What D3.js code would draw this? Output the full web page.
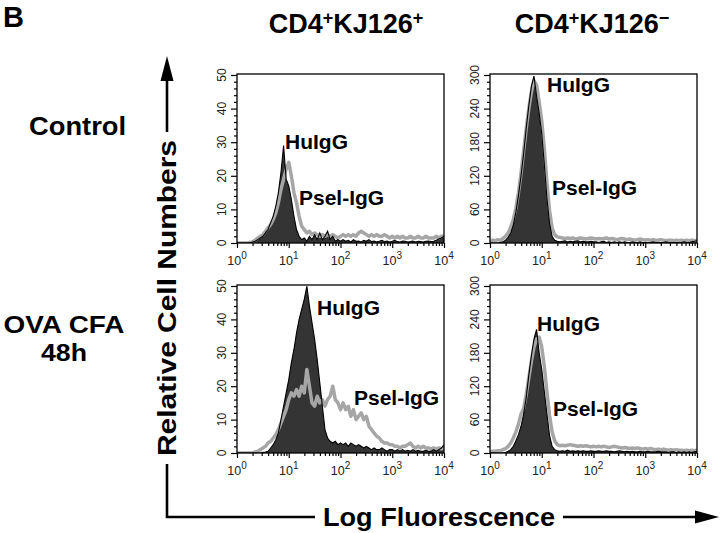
<!DOCTYPE html>
<html><head><meta charset="utf-8">
<script src="https://cdn.jsdelivr.net/npm/d3@7"></script>
<style>body{margin:0;background:#fff} svg{display:block}</style>
</head><body><svg id="c" width="720" height="533"></svg>
<script>
// log10 fluorescence channel positions (decades)
const logChannels = [0,0.05,0.1,0.15,0.2,0.25,0.3,0.35,0.4,0.45,0.5,0.55,0.6,0.65,0.7,0.75,0.8,0.85,0.9,0.95,1,1.05,1.1,1.15,1.2,1.25,1.3,1.35,1.4,1.45,1.5,1.55,1.6,1.65,1.7,1.75,1.8,1.85,1.9,1.95,2,2.05,2.1,2.15,2.2,2.25,2.3,2.35,2.4,2.45,2.5,2.55,2.6,2.65,2.7,2.75,2.8,2.85,2.9,2.95,3,3.05,3.1,3.15,3.2,3.25,3.3,3.35,3.4,3.45,3.5,3.55,3.6,3.65,3.7,3.75,3.8,3.85,3.9,3.95,4];

const columns = ["CD4", "CD4"];
const columnMid = ["KJ126", "KJ126"];
const columnSup = ["+", "-"];
const rows = [["Control"], ["OVA CFA", "48h"]];
const seriesNames = ["HuIgG", "Psel-IgG"];
const yTicks50 = [0,10,20,30,40,50];
const yTicks300 = [0,60,120,180,240,300];
const xDecades = [0,1,2,3,4];

// Control, CD4+KJ126+
const ctrlPos_HuIgG = [0,0,0,0,0,0,0.3,0.5,1,1.5,2,3,4,6,8,11,15,21,29,19,17,13,8,4,2,1,1.5,0.5,2,1,2.5,1,3,1,2,3.5,1,2,0.5,1,0.5,
 1,0.5,0.8,0.3,1,0.5,0.6,0.3,0.8,0.5,1,0.4,0.6,0.3,0.5,0.8,0.4,0.6,0.3,0.5,0.8,0.4,0.3,0.6,0.5,0.3,0.4,0.6,0.3,0.5,0.4,0.3,0.5,0.6,0.4,0.5,0.8,1.2,1.5,2];
const ctrlPos_Psel = [0,0,0,0,0,0.2,0.3,0.8,1.5,2,2.5,3.5,4.5,5.5,7,9,12,16,19,22,24,20,15,12,8,5,4,3,3.5,2.5,3,2.5,2,2.5,2,2.5,2,2.5,2,1.5,2,
 2.5,2,2.5,2,2.5,2,3,3.5,3,2.5,2,2.5,2,2.5,2,2,2.5,2,1.5,2,1.5,2,1.5,2,1.5,1.5,2,1.5,1.5,2,1.5,1.5,2,1.5,1.5,1.5,2,1.5,2,2];
// Control, CD4+KJ126-
const ctrlNeg_HuIgG = [0,0,0,0,1,2,5,10,18,32,55,85,120,160,205,245,280,298,262,232,195,140,80,35,12,5,3,
 2,3,4,2,3,2,3,4,2,3,2,2,3,2,
 2,1,2,3,1,2,1,2,1,2,1,2,1,1,2,1,1,2,1,1,1,1,2,1,1,1,1,2,1,1,1,1,1,1,2,1,1,2,3,4];
const ctrlNeg_Psel = [3,5,4,6,5,8,12,18,28,42,62,90,125,165,205,240,270,290,282,252,218,168,108,58,27,15,11,
 10,9,8,9,8,9,7,8,9,8,7,8,9,8,
 7,8,7,8,9,7,8,7,6,7,8,7,6,7,6,5,6,7,6,5,6,5,6,5,5,6,5,4,5,5,4,5,4,5,4,5,4,5,4,5];
// OVA CFA 48h, CD4+KJ126+
const ovaPos_HuIgG = [0,0,0,0,0,0,0,0,0,0,0.2,0.3,0.5,1.5,2.5,4,6,10,14,18,22,27,31,36,40,43,46,50,44,39,34,28,21,14,7,4.5,3.5,3,3.5,2.5,3,
 2.5,3,2,3,2.5,2,2.5,2,1.5,2,1.5,1,1.5,1,1,1.5,1,0.5,1,1,0.5,1,0.5,1,0.5,0.8,0.5,1,0.5,0.8,0.5,0.5,0.8,0.5,0.5,1,0.5,1,1.5,2.5];
const ovaPos_Psel = [0,0,0,0,0,0,0,0.3,0.5,1,1.5,2,3,3.5,4.5,5.5,7,9,11,13,16,18,17,19,17,20,18,25,20,15,14,17,15,16,14,16,17,20,16,15,13,
 15,13,14,11,13,10,11,12,10,11,8,7,6,5,4.5,3.5,3,3,2.5,2.5,2,2,1.5,2,2,2.5,3,2,1.5,2,1.5,2,1.5,1.5,1.2,1.5,1.2,1.5,1.2,1.5];
// OVA CFA 48h, CD4+KJ126-
const ovaNeg_HuIgG = [0,0,0,0,0,0,1,3,6,12,22,33,48,70,100,140,175,205,222,180,150,110,70,32,12,6,4,
 3,4,3,5,3,4,3,4,3,4,3,3,4,3,
 3,4,3,3,4,3,3,2,3,4,3,2,3,2,3,2,2,3,2,2,3,2,2,2,3,2,2,2,1,2,2,1,2,1,2,1,2,1,2,3];
const ovaNeg_Psel = [2,3,3,4,4,6,8,12,18,27,38,52,70,80,105,135,165,190,205,208,190,155,110,68,38,22,15,
 13,14,13,14,15,14,13,12,13,12,13,12,11,12,
 11,12,11,12,11,10,11,12,11,10,9,10,9,8,9,8,9,8,7,8,7,8,7,6,7,6,7,6,5,6,5,6,5,5,4,5,4,5,4,5];

const panels = [
  {hu: ctrlPos_HuIgG, ps: ctrlPos_Psel, ticks: yTicks50},
  {hu: ctrlNeg_HuIgG, ps: ctrlNeg_Psel, ticks: yTicks300},
  {hu: ovaPos_HuIgG, ps: ovaPos_Psel, ticks: yTicks50},
  {hu: ovaNeg_HuIgG, ps: ovaNeg_Psel, ticks: yTicks300}
];

// ---- layout ----
const FONT = "'Liberation Sans', Arial, Helvetica, sans-serif";
const svg = d3.select('#c');
const colX = [237, 490], panelW = 207;
const rowY = [{top: 75, bottom: 243}, {top: 286, bottom: 453}];
const labelPos = [
  [[285,149],[299,205]],
  [[547,92],[552,195]],
  [[317,315],[354,405]],
  [[537,331],[553,416]]
];

panels.forEach((p, idx) => {
  const r = Math.floor(idx / 2), c = idx % 2;
  const yMax = p.ticks[p.ticks.length - 1];
  const x = d3.scaleLog().domain([1, 10000]).range([colX[c], colX[c] + panelW]);
  const y = d3.scaleLinear().domain([0, yMax]).range([rowY[r].bottom, rowY[r].top]);
  const g = svg.append('g');
  const cid = 'clip' + idx;
  svg.append('clipPath').attr('id', cid).append('rect')
    .attr('x', x.range()[0]).attr('y', y.range()[1] - 1)
    .attr('width', panelW).attr('height', y.range()[0] - y.range()[1] + 1);
  const pts = arr => logChannels.map((l, i) => [Math.pow(10, l), arr[i]]);
  const area = d3.area().x(d => x(d[0])).y0(y(0)).y1(d => y(d[1]));
  const line = d3.line().x(d => x(d[0])).y(d => y(d[1]));
  const plot = g.append('g').attr('clip-path', `url(#${cid})`);
  plot.append('path').datum(pts(p.hu)).attr('d', area).attr('fill', '#343434');
  plot.append('path').datum(pts(p.ps)).attr('d', line).attr('fill', 'none')
    .attr('stroke', '#a6a6a6').attr('stroke-width', 3.5).attr('stroke-linejoin', 'round');
  plot.append('path').datum(pts(p.hu)).attr('d', line).attr('fill', 'none')
    .attr('stroke', '#000').attr('stroke-width', 1.1);

  // frame
  g.append('rect').attr('x', x.range()[0]).attr('y', y.range()[1] - 1)
    .attr('width', panelW).attr('height', y.range()[0] - y.range()[1] + 1)
    .attr('fill', 'none').attr('stroke', '#000').attr('stroke-width', 1.3);

  // y axis: major + minor ticks
  const minorStep = (p.ticks[1] - p.ticks[0]) / 5;
  const minor = d3.range(0, yMax + 1e-9, minorStep).filter(v => !p.ticks.includes(Math.round(v * 1000) / 1000));
  const yAxMaj = g.append('g').attr('transform', `translate(${x.range()[0]},0)`)
    .call(d3.axisLeft(y).tickValues(p.ticks).tickSize(6).tickSizeOuter(0).tickFormat(''));
  const yAxMin = g.append('g').attr('transform', `translate(${x.range()[0]},0)`)
    .call(d3.axisLeft(y).tickValues(minor).tickSize(3).tickSizeOuter(0).tickFormat(''));
  [yAxMaj, yAxMin].forEach(a => { a.select('.domain').remove(); a.selectAll('line').attr('stroke', '#000').attr('stroke-width', 1.2); });
  p.ticks.forEach(v => {
    g.append('text').attr('transform', `translate(${x.range()[0] - 11},${y(v)}) rotate(-90)`)
      .attr('text-anchor', 'middle').attr('font-family', FONT).attr('font-size', 12)
      .attr('fill', '#222').text(v);
  });

  // x axis: log ticks
  const majorX = xDecades.map(k => Math.pow(10, k));
  const minorX = [];
  xDecades.slice(0, -1).forEach(k => { for (let m = 2; m <= 9; m++) minorX.push(m * Math.pow(10, k)); });
  const xAxMaj = g.append('g').attr('transform', `translate(0,${y.range()[0]})`)
    .call(d3.axisBottom(x).tickValues(majorX).tickSize(5).tickSizeOuter(0).tickFormat(''));
  const xAxMin = g.append('g').attr('transform', `translate(0,${y.range()[0]})`)
    .call(d3.axisBottom(x).tickValues(minorX).tickSize(3).tickSizeOuter(0).tickFormat(''));
  [xAxMaj, xAxMin].forEach(a => { a.select('.domain').remove(); a.selectAll('line').attr('stroke', '#000').attr('stroke-width', 1.2); });
  xDecades.forEach(k => {
    const t = g.append('text').attr('x', x(Math.pow(10, k))).attr('y', y.range()[0] + 22)
      .attr('text-anchor', 'middle').attr('font-family', FONT).attr('font-size', 12.5).attr('fill', '#222');
    t.append('tspan').text('10');
    t.append('tspan').attr('dy', -6).attr('font-size', 10).text(k);
  });

  // series labels
  seriesNames.forEach((s, j) => {
    g.append('text').attr('x', labelPos[idx][j][0]).attr('y', labelPos[idx][j][1])
      .attr('font-family', FONT).attr('font-weight', 'bold').attr('font-size', 21).text(s);
  });
});

// panel letter
svg.append('text').attr('x', 3).attr('y', 27).attr('font-family', FONT).attr('font-weight', 'bold')
  .attr('font-size', 29).text('B');

// column headers
const colCenters = [346, 592];
columns.forEach((cName, i) => {
  const t = svg.append('text').attr('x', colCenters[i]).attr('y', 33).attr('text-anchor', 'middle')
    .attr('font-family', FONT).attr('font-weight', 'bold').attr('font-size', 27);
  t.append('tspan').text(cName);
  t.append('tspan').attr('dy', -9).attr('font-size', 18).text('+');
  t.append('tspan').attr('dy', 9).text(columnMid[i]);
  t.append('tspan').attr('dy', -9).attr('font-size', 18).text(columnSup[i] === '-' ? '\u2212' : '+');
});

// row labels (center x, baselines, font size, widths)
const rowLayout = [[77.5, [135], 26, [97]], [64, [333, 361], 24, [121, 46]]];
rows.forEach((lines, i) => {
  lines.forEach((ln, j) => {
    svg.append('text').attr('x', rowLayout[i][0]).attr('y', rowLayout[i][1][j]).attr('text-anchor', 'middle')
      .attr('font-family', FONT).attr('font-weight', 'bold').attr('font-size', rowLayout[i][2])
      .attr('textLength', rowLayout[i][3][j]).attr('lengthAdjust', 'spacingAndGlyphs').text(ln);
  });
});

// big axis arrows
const ax = 167, ay = 517;
svg.append('path').attr('d', `M${ax},80 L${ax},${ay} L696,${ay}`).attr('fill', 'none')
  .attr('stroke', '#000').attr('stroke-width', 2.6);
svg.append('path').attr('d', `M${ax},56 L${ax - 6.5},81 L${ax + 6.5},81 Z`).attr('fill', '#000');
svg.append('path').attr('d', `M719,${ay} L695,${ay - 6.5} L695,${ay + 6.5} Z`).attr('fill', '#000');

const yt = svg.append('text').attr('transform', `translate(176,298) rotate(-90)`).attr('text-anchor', 'middle')
  .attr('font-family', FONT).attr('font-weight', 'bold').attr('font-size', 26)
  .attr('textLength', 316).attr('lengthAdjust', 'spacingAndGlyphs').text('Relative Cell Numbers');
svg.insert('rect', function(){ return yt.node(); }).attr('x', 150).attr('y', 298 - 166).attr('width', 34).attr('height', 332).attr('fill', '#fff');
const xt = svg.append('text').attr('x', 439).attr('y', 526).attr('text-anchor', 'middle')
  .attr('font-family', FONT).attr('font-weight', 'bold').attr('font-size', 26)
  .attr('textLength', 232).attr('lengthAdjust', 'spacingAndGlyphs').text('Log Fluorescence');
svg.insert('rect', function(){ return xt.node(); }).attr('x', 439 - 124).attr('y', 505).attr('width', 248).attr('height', 28).attr('fill', '#fff');
</script>
</body></html>
